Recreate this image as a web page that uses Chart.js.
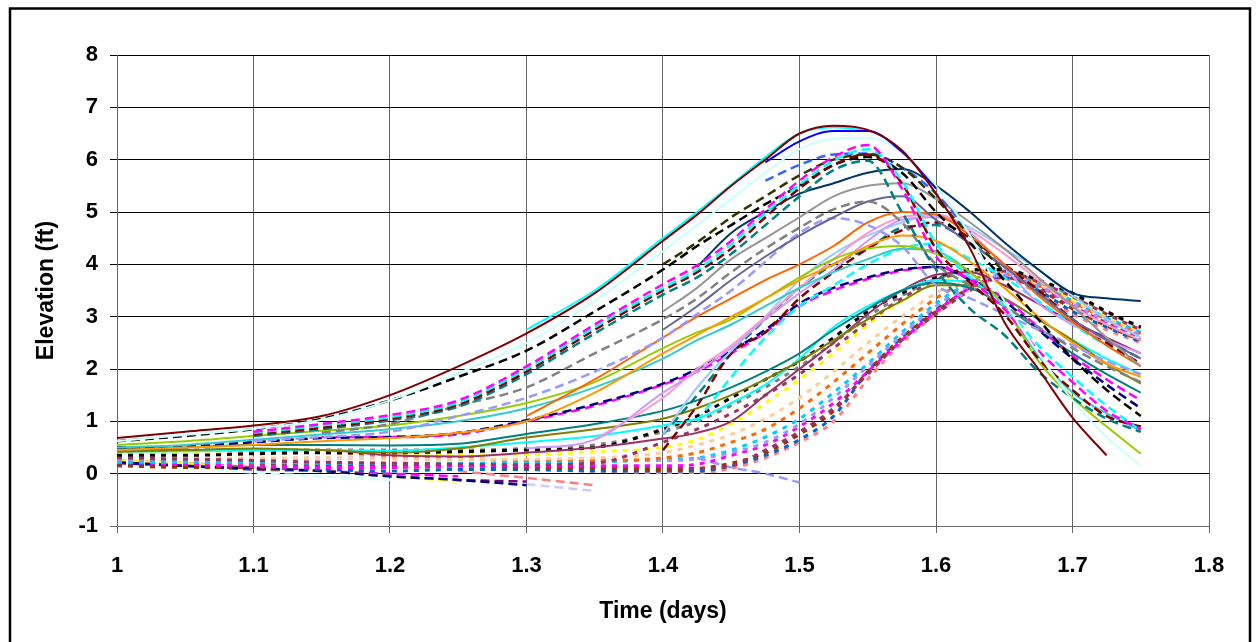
<!DOCTYPE html>
<html>
<head>
<meta charset="utf-8">
<script src="https://cdn.jsdelivr.net/npm/chart.js@4.4.0/dist/chart.umd.min.js"></script>
<style>
html, body { margin: 0; padding: 0; background: #fff; }
#wrap { position: relative; width: 1257px; height: 642px; }
</style>
</head>
<body>
<div id="wrap"><canvas id="chart"></canvas></div>
<script>
const _ = null;

/* time axis (days) */
const times = [1.0, 1.05, 1.1, 1.15, 1.2, 1.25, 1.3, 1.35, 1.4, 1.425, 1.45, 1.475, 1.5, 1.525, 1.55, 1.575, 1.6, 1.625, 1.65, 1.675, 1.7, 1.725, 1.75];
const xTicks = [1, 1.1, 1.2, 1.3, 1.4, 1.5, 1.6, 1.7, 1.8];
const yTicks = [-1, 0, 1, 2, 3, 4, 5, 6, 7, 8];

/* upper stations */
const maroonTop = [0.68, 0.8, 0.92, 1.1, 1.5, 2.05, 2.68, 3.45, 4.45, 4.95, 5.5, 6.0, 6.5, 6.65, 6.57, 6.18, 5.35, 4.3, 2.9, 2.0, 1.07, 0.35, _];
const blueTop = [_, _, _, _, _, _, _, _, _, _, _, 5.95, 6.35, 6.55, 6.55, 6.15, 5.45, _, _, _, _, _, _];
const cyanTop = [_, _, _, _, _, _, 2.75, 3.5, 4.5, 5.0, 5.52, 6.05, 6.5, 6.62, 6.55, _, _, _, _, _, _, _, _];
const paleCyan = [0.62, 0.74, 0.86, 1.03, 1.4, 1.92, 2.5, 3.3, 4.25, 4.75, 5.25, 5.75, 6.2, 6.4, 6.42, 6.15, 5.5, 4.55, 3.3, 2.3, 1.4, 0.7, 0.15];
const blackDash = [0.62, 0.72, 0.85, 1.05, 1.4, 1.85, 2.35, 3.1, 3.9, 4.35, 4.75, 5.15, 5.5, 5.9, 6.05, 5.75, 5.0, 4.4, 3.7, 2.95, 2.2, 1.6, 1.1];
const oliveDash = [_, _, _, _, _, _, _, _, 4.0, 4.42, 4.9, 5.3, 5.7, 6.0, 6.1, 5.85, 5.25, 4.55, 3.85, _, _, _, _];
const royalDash = [_, _, _, _, _, _, _, _, _, _, _, 5.6, 5.9, 6.1, 6.12, 5.85, 5.35, 4.6, _, _, _, _, _];
const magDash1 = [_, _, 0.8, 0.95, 1.12, 1.4, 2.05, 2.85, 3.62, 3.98, 4.45, 5.05, 5.6, 6.05, 6.28, 5.45, 4.15, 3.7, 3.15, 2.35, 1.75, 1.2, 0.85];
const cyanDash1 = [_, _, 0.78, 0.92, 1.08, 1.36, 2.0, 2.8, 3.55, 3.9, 4.38, 4.98, 5.52, 5.98, 6.2, 5.6, 4.4, 3.75, 3.2, 2.45, 1.85, 1.3, 0.82];
const maroonDash1 = [_, _, 0.75, 0.88, 1.05, 1.32, 1.95, 2.75, 3.5, 3.85, 4.3, 4.9, 5.45, 5.9, 6.1, 5.55, 4.3, 3.65, 3.05, 2.2, 1.6, 1.1, 0.9];
const tealDash1 = [_, _, 0.72, 0.85, 1.02, 1.28, 1.9, 2.68, 3.42, 3.75, 4.2, 4.75, 5.3, 5.8, 5.98, 5.0, 3.9, 3.15, 2.65, 1.95, 1.45, 1.05, 0.8];
const darkBlue = [_, _, _, _, _, _, _, _, _, 3.95, 4.6, 5.0, 5.35, 5.55, 5.75, 5.82, 5.5, 5.0, 4.42, 3.9, 3.45, 3.35, 3.3];
const graySolid = [_, _, _, _, _, _, _, _, 3.1, 3.55, 4.1, 4.5, 4.9, 5.3, 5.5, 5.55, 5.25, 4.8, 4.3, 3.75, 3.2, 2.6, 2.05];
const grayDash = [_, _, _, 0.78, 0.95, 1.3, 1.65, 2.3, 2.95, 3.35, 3.85, 4.3, 4.7, 5.05, 5.2, 4.8, 4.0, 3.6, 3.2, 2.8, 2.4, 2.05, 1.75];
const slate = [_, _, _, _, _, _, _, _, 2.75, 3.2, 3.7, 4.15, 4.55, 4.9, 5.2, 5.3, 4.85, 4.4, 3.95, 3.45, 2.95, 2.55, 2.2];
const lavDash = [_, _, 0.62, 0.7, 0.8, 1.1, 1.45, 1.95, 2.6, 3.05, 3.5, 4.05, 4.6, 4.88, 4.75, 4.35, 3.6, 3.35, 3.05, 2.75, 2.45, 2.15, 1.9];

/* middle stations */
const darkOrange = [_, _, _, _, _, _, 1.1, 1.8, 2.6, 3.0, 3.35, 3.7, 4.0, 4.35, 4.8, 5.0, 4.95, 4.55, 4.0, 3.4, 2.9, 2.45, 2.05];
const lightOrange = [0.45, 0.5, 0.55, 0.62, 0.68, 0.78, 1.0, 1.55, 2.3, 2.65, 3.0, 3.35, 3.7, 4.0, 4.35, 4.55, 4.45, 4.05, 3.55, 3.0, 2.5, 2.1, 1.85];
const yellowGreen = [0.55, 0.62, 0.72, 0.82, 0.92, 1.1, 1.35, 1.75, 2.4, 2.7, 2.95, 3.35, 3.75, 4.1, 4.3, 4.35, 4.2, 3.85, 3.2, 2.15, 1.45, 0.9, 0.38];
const turquoise = [0.5, 0.55, 0.65, 0.75, 0.85, 1.0, 1.25, 1.65, 2.2, 2.55, 2.85, 3.2, 3.55, 3.85, 4.1, 4.3, 4.25, 3.85, 3.2, 2.25, 1.55, 1.15, 0.82];
const lilac = [_, _, _, _, _, _, 0.48, 0.65, 1.55, 1.95, 2.4, 2.95, 3.45, 3.9, 4.45, 4.85, 4.9, 4.6, 3.95, 3.25, 2.85, 2.55, 2.3];
const pink = [_, _, _, _, _, _, _, 0.65, 1.45, 2.0, 2.45, 3.0, 3.55, 4.1, 4.6, 4.9, 4.95, 4.65, 4.2, 3.7, 3.2, 2.85, 2.55];
const lightBlue = [_, _, _, _, _, _, _, _, 0.75, 1.65, 2.35, 3.0, 3.7, 4.2, 4.55, 4.8, 4.95, 4.7, 4.3, 3.9, 3.4, 2.95, 2.6];
const maroonDash2 = [_, _, _, _, _, _, _, _, 0.45, 1.3, 2.3, 2.7, 3.35, 3.85, 4.3, 4.65, 4.8, 4.5, 4.0, 3.5, 2.95, 2.5, 2.1];
const tealDash2 = [_, _, _, _, _, _, _, _, 0.75, 1.5, 2.3, 2.95, 3.55, 4.0, 4.3, 4.7, 4.75, 4.4, 3.95, 3.45, 2.95, 2.55, 2.2];
const cyanDash2 = [_, _, _, _, _, _, _, _, _, 1.0, 1.85, 2.6, 3.2, 3.6, 4.0, 4.3, 4.4, 4.1, 3.75, 3.3, 2.85, 2.45, 2.1];
const navyDash = [0.5, 0.52, 0.6, 0.68, 0.7, 0.78, 1.02, 1.33, 1.72, 2.0, 2.35, 2.75, 3.25, 3.55, 3.75, 3.9, 3.95, 3.7, 3.3, 2.75, 2.2, 1.7, 1.25];
const magDash2 = [_, _, _, 0.7, 0.7, 0.75, 1.0, 1.3, 1.7, 1.95, 2.3, 2.7, 3.2, 3.5, 3.72, 3.88, 3.95, 3.72, 3.35, 2.8, 2.25, 1.8, 1.4];
const tealSolid = [0.48, 0.5, 0.55, 0.55, 0.54, 0.57, 0.76, 0.95, 1.2, 1.4, 1.65, 1.95, 2.3, 2.75, 3.15, 3.5, 3.65, 3.55, 3.2, 2.75, 2.3, 1.9, 1.55];
const oliveSolid = [0.42, 0.45, 0.48, 0.45, 0.4, 0.48, 0.69, 0.85, 1.05, 1.25, 1.5, 1.8, 2.15, 2.55, 2.95, 3.3, 3.6, 3.6, 3.35, 2.95, 2.55, 2.1, 1.72];
const cyanSolid = [0.42, 0.43, 0.45, 0.45, 0.44, 0.5, 0.6, 0.72, 0.92, 1.05, 1.35, 1.7, 2.2, 2.8, 3.2, 3.5, 3.7, 3.65, 3.35, 2.95, 2.55, 2.2, 1.9];
const plumSolid = [0.45, 0.45, 0.45, 0.45, 0.35, 0.33, 0.4, 0.5, 0.67, 0.78, 1.0, 1.5, 2.0, 2.5, 3.05, 3.5, 3.8, 3.85, 3.6, 3.25, 2.9, 2.6, 2.3];

/* lower stations (dotted) */
const dotBlack = [0.35, 0.35, 0.38, 0.4, 0.4, 0.42, 0.45, 0.5, 0.85, 1.1, 1.45, 1.8, 2.15, 2.6, 3.1, 3.45, 3.75, 3.9, 3.9, 3.7, 3.45, 3.1, 2.8];
const dotGray = [0.45, 0.45, 0.45, 0.45, 0.45, 0.45, 0.48, 0.55, 0.8, 1.0, 1.3, 1.65, 2.05, 2.5, 3.0, 3.4, 3.72, 3.88, 3.88, 3.68, 3.4, 3.08, 2.78];
const dotPlum = [0.3, 0.28, 0.25, 0.22, 0.2, 0.18, 0.17, 0.2, 0.6, 0.85, 1.15, 1.5, 1.9, 2.4, 2.9, 3.35, 3.7, 3.85, 3.87, 3.66, 3.38, 3.05, 2.75];
const dotYellow = [0.4, 0.42, 0.45, 0.45, 0.4, 0.37, 0.36, 0.42, 0.5, 0.65, 0.95, 1.35, 1.8, 2.3, 2.85, 3.3, 3.65, 3.85, 3.88, 3.65, 3.35, 3.02, 2.75];
const dotPeach = [0.3, 0.3, 0.3, 0.3, 0.28, 0.27, 0.28, 0.3, 0.4, 0.55, 0.75, 1.05, 1.45, 1.95, 2.5, 3.0, 3.45, 3.75, 3.85, 3.62, 3.3, 2.98, 2.7];
const dotOrange = [0.45, 0.45, 0.42, 0.4, 0.35, 0.3, 0.25, 0.25, 0.3, 0.4, 0.6, 0.85, 1.25, 1.75, 2.3, 2.85, 3.35, 3.7, 3.82, 3.6, 3.28, 2.95, 2.68];
const dotLav = [0.28, 0.28, 0.28, 0.3, 0.3, 0.28, 0.25, 0.25, 0.25, 0.28, 0.4, 0.6, 0.95, 1.45, 2.05, 2.65, 3.2, 3.6, 3.8, 3.58, 3.25, 2.92, 2.65];
const dotSky = [0.22, 0.22, 0.22, 0.2, 0.2, 0.2, 0.2, 0.22, 0.27, 0.3, 0.45, 0.7, 1.05, 1.55, 2.1, 2.7, 3.25, 3.65, 3.82, 3.62, 3.3, 2.98, 2.7];
const dotMag = [0.22, 0.18, 0.14, 0.12, 0.12, 0.15, 0.15, 0.15, 0.15, 0.18, 0.35, 0.55, 0.9, 1.35, 1.95, 2.55, 3.1, 3.55, 3.78, 3.58, 3.22, 2.9, 2.62];
const dotPlum2 = [0.3, 0.25, 0.2, 0.18, 0.18, 0.17, 0.16, 0.14, 0.13, 0.1, 0.15, 0.45, 0.8, 1.25, 1.9, 2.55, 3.05, 3.5, 3.75, 3.55, 3.2, 2.88, 2.6];
const dotBrown = [0.15, 0.12, 0.12, 0.15, 0.15, 0.15, 0.12, 0.1, 0.08, 0.1, 0.2, 0.4, 0.75, 1.2, 1.95, 2.6, 3.1, 3.55, 3.75, 3.52, 3.15, 2.82, 2.55];
const dotBlue = [0.2, 0.15, 0.12, 0.08, 0.05, 0.08, 0.08, 0.05, 0.05, 0.05, 0.15, 0.35, 0.65, 1.1, 1.95, 2.6, 3.15, 3.65, 3.75, 3.5, 3.1, 2.8, 2.52];
const dotSalmon = [0.25, 0.22, 0.18, 0.15, 0.12, 0.1, 0.08, 0.05, 0.02, 0.02, 0.1, 0.3, 0.6, 1.0, 1.8, 2.5, 3.05, 3.55, 3.72, 3.45, 3.05, 2.75, 2.5];

/* stations that dry out */
const downNavy = [0.22, 0.15, 0.1, 0.05, -0.05, -0.12, -0.22, _, _, _, _, _, _, _, _, _, _, _, _, _, _, _, _];
const downYellow = [0.25, 0.2, 0.1, 0.05, -0.05, -0.15, _, _, _, _, _, _, _, _, _, _, _, _, _, _, _, _, _];
const downPurple = [0.2, 0.15, 0.08, 0.05, -0.05, -0.12, -0.15, _, _, _, _, _, _, _, _, _, _, _, _, _, _, _, _];
const downMag = [0.25, 0.2, 0.12, 0.05, 0.0, -0.05, _, _, _, _, _, _, _, _, _, _, _, _, _, _, _, _, _];
const downPaleCyan = [0.15, 0.12, 0.02, -0.05, -0.12, _, _, _, _, _, _, _, _, _, _, _, _, _, _, _, _, _, _];
const downSalmon = [_, _, _, _, _, 0.05, -0.08, -0.22, _, _, _, _, _, _, _, _, _, _, _, _, _, _, _];
const downLilac = [_, _, _, _, _, _, -0.2, -0.33, _, _, _, _, _, _, _, _, _, _, _, _, _, _, _];
const downLav = [_, _, _, _, _, _, _, _, _, 0.3, 0.12, 0.0, -0.17, _, _, _, _, _, _, _, _, _, _];

/* [values, colour, line kind] - first ones end up on top */
const seriesList = [
    [maroonTop, '#800000', 'solid'],
    [blueTop, '#0000FF', 'solid'],
    [cyanTop, '#00FFFF', 'solid'],
    [paleCyan, '#CCFFFF', 'solid'],
    [magDash1, '#FF00FF', 'dash'],
    [cyanDash1, '#00FFFF', 'dash'],
    [maroonDash1, '#800000', 'dash'],
    [tealDash1, '#008080', 'dash'],
    [blackDash, '#000000', 'dash'],
    [oliveDash, '#333300', 'dash'],
    [royalDash, '#3366FF', 'dash'],
    [darkBlue, '#003366', 'solid'],
    [graySolid, '#969696', 'solid'],
    [grayDash, '#808080', 'dash'],
    [slate, '#666699', 'solid'],
    [lavDash, '#9999FF', 'dash'],
    [darkOrange, '#FF6600', 'solid'],
    [lightOrange, '#FF9900', 'solid'],
    [yellowGreen, '#99CC00', 'solid'],
    [turquoise, '#33CCCC', 'solid'],
    [lilac, '#CC99FF', 'solid'],
    [pink, '#FF99CC', 'solid'],
    [lightBlue, '#99CCFF', 'solid'],
    [maroonDash2, '#800000', 'dash'],
    [tealDash2, '#008080', 'dash'],
    [cyanDash2, '#00FFFF', 'dash'],
    [navyDash, '#000080', 'dash'],
    [magDash2, '#FF00FF', 'dash'],
    [tealSolid, '#008080', 'solid'],
    [oliveSolid, '#808000', 'solid'],
    [cyanSolid, '#00FFFF', 'solid'],
    [plumSolid, '#993366', 'solid'],
    [dotBlack, '#000000', 'dot'],
    [dotGray, '#808080', 'dot'],
    [dotPlum, '#993366', 'dot'],
    [dotYellow, '#FFFF00', 'dot'],
    [dotPeach, '#FFCC99', 'dot'],
    [dotOrange, '#FF6600', 'dot'],
    [dotLav, '#9999FF', 'dot'],
    [dotSky, '#00CCFF', 'dot'],
    [dotMag, '#FF00FF', 'dot'],
    [dotPlum2, '#993366', 'dot'],
    [dotBrown, '#993300', 'dot'],
    [dotBlue, '#0066CC', 'dot'],
    [dotSalmon, '#FF8080', 'dot'],
    [downNavy, '#000080', 'dash'],
    [downYellow, '#FFFF00', 'dash'],
    [downPurple, '#800080', 'dash'],
    [downMag, '#FF00FF', 'dash'],
    [downPaleCyan, '#CCFFFF', 'dash'],
    [downSalmon, '#FF8080', 'dash'],
    [downLilac, '#CCCCFF', 'dash'],
    [downLav, '#9999FF', 'dash']
];

const lineKinds = {
    solid: { width: 2, dash: [] },
    dash: { width: 2.5, dash: [9, 5] },
    dot: { width: 3, dash: [5, 6] }
};

const datasets = seriesList.map(function(s) {
    const vals = s[0];
    const kind = lineKinds[s[2]];
    return {
        data: times.map((t, i) => ({ x: t, y: vals[i] })),
        borderColor: s[1],
        borderWidth: kind.width,
        borderDash: kind.dash,
        pointRadius: 0,
        fill: false,
        cubicInterpolationMode: 'monotone',
        spanGaps: false
    };
});

const tickFont = { family: "'Liberation Sans', Arial, sans-serif", size: 22, weight: 'bold' };
const titleFont = { family: "'Liberation Sans', Arial, sans-serif", size: 23, weight: 'bold' };

/* outer frame of the chart */
const framePlugin = {
    id: 'frame',
    afterDraw(chart) {
        const c = chart.ctx;
        c.save();
        c.strokeStyle = '#000';
        c.lineWidth = 2.5;
        c.strokeRect(10, 8.5, 1240, 700);
        c.restore();
    }
};

window.onload = function() {
    const ctx = document.getElementById('chart').getContext('2d');
    window.theChart = new Chart(ctx, {
        type: 'line',
        data: { datasets: datasets },
        plugins: [framePlugin],
        options: {
            responsive: true,
            maintainAspectRatio: false,
            animation: false,
            events: [],
            layout: { padding: { left: 0, top: 55, right: 48, bottom: 0 } },
            plugins: { legend: { display: false }, tooltip: { enabled: false } },
            scales: {
                x: {
                    type: 'linear',
                    min: xTicks[0],
                    max: xTicks[xTicks.length - 1],
                    afterFit: s => { s.height = 116; },
                    afterBuildTicks: s => { s.ticks = xTicks.map(v => ({ value: v })); },
                    ticks: { color: '#000', font: tickFont, padding: 20, maxRotation: 0, autoSkip: false,
                        callback: v => String(+v.toFixed(1)) },
                    grid: { color: '#666', tickLength: 7 },
                    border: { color: '#666' },
                    title: { display: true, text: 'Time (days)', color: '#000', font: titleFont, padding: { bottom: 17 } }
                },
                y: {
                    type: 'linear',
                    min: yTicks[0],
                    max: yTicks[yTicks.length - 1],
                    afterFit: s => { s.width = 117; },
                    afterBuildTicks: s => { s.ticks = yTicks.map(v => ({ value: v })); },
                    ticks: { color: '#000', font: tickFont, padding: 12 },
                    grid: { color: c => (c.tick && c.tick.value === -1) ? '#666' : '#000', tickLength: 7 },
                    border: { color: '#666' },
                    title: { display: true, text: 'Elevation (ft)', color: '#000', font: titleFont, padding: { top: 33 } }
                }
            }
        }
    });
};
</script>
</body>
</html>
